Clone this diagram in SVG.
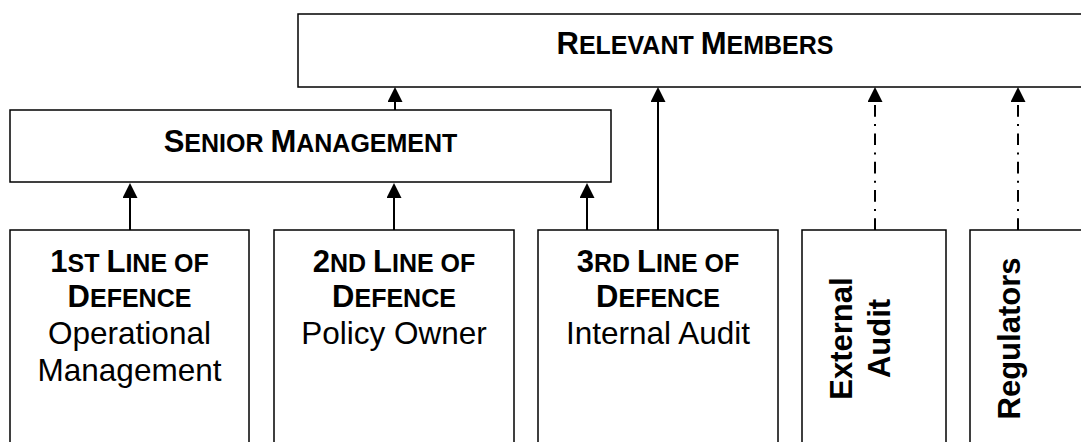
<svg xmlns="http://www.w3.org/2000/svg" width="1081" height="442" viewBox="0 0 1081 442">
<style>
.box{fill:#fff;stroke:#000;stroke-width:1.5}
.t{font-family:"Liberation Sans",Arial,sans-serif;fill:#000;text-anchor:middle}
.b{font-weight:bold}
.L{font-size:31px}
.s{font-size:25px}
.r{font-size:31.5px}
.v{font-size:31px;font-weight:bold}
.c{fill:none;stroke:#000;stroke-width:2}
.d{stroke-dasharray:11.7 7.3 2 7.3}
</style>
<defs>
<marker id="ah" markerUnits="userSpaceOnUse" markerWidth="15" markerHeight="15" refX="0" refY="7.5" orient="auto" viewBox="0 0 15 15">
<path d="M0,0 L15,7.5 L0,15 z" fill="#000"/>
</marker>
</defs>
<rect width="1081" height="442" fill="#fff"/>
<g id="relevant-members">
<rect class="box" x="298" y="14" width="800" height="73"/>
<text class="t b" x="695" y="54"><tspan class="L">R</tspan><tspan class="s">ELEVANT </tspan><tspan class="L">M</tspan><tspan class="s">EMBERS</tspan></text>
</g>
<g id="senior-management">
<rect class="box" x="10" y="110" width="601" height="72"/>
<text class="t b" x="310.5" y="152"><tspan class="L">S</tspan><tspan class="s">ENIOR </tspan><tspan class="L">M</tspan><tspan class="s">ANAGEMENT</tspan></text>
</g>
<g id="first-line">
<rect class="box" x="10" y="230" width="239" height="240"/>
<text class="t b" x="129.5" y="271.5"><tspan class="L">1</tspan><tspan class="s">ST </tspan><tspan class="L">L</tspan><tspan class="s">INE OF</tspan></text>
<text class="t b" x="129.5" y="307"><tspan class="L">D</tspan><tspan class="s">EFENCE</tspan></text>
<text class="t r" x="129.5" y="344">Operational</text>
<text class="t r" x="129.5" y="381">Management</text>
</g>
<g id="second-line">
<rect class="box" x="274" y="230" width="240" height="240"/>
<text class="t b" x="394" y="271.5"><tspan class="L">2</tspan><tspan class="s">ND </tspan><tspan class="L">L</tspan><tspan class="s">INE OF</tspan></text>
<text class="t b" x="394" y="307"><tspan class="L">D</tspan><tspan class="s">EFENCE</tspan></text>
<text class="t r" x="394" y="344">Policy Owner</text>
</g>
<g id="third-line">
<rect class="box" x="538" y="230" width="240" height="240"/>
<text class="t b" x="658" y="271.5"><tspan class="L">3</tspan><tspan class="s">RD </tspan><tspan class="L">L</tspan><tspan class="s">INE OF</tspan></text>
<text class="t b" x="658" y="307"><tspan class="L">D</tspan><tspan class="s">EFENCE</tspan></text>
<text class="t r" x="658" y="344">Internal Audit</text>
</g>
<g id="external-audit">
<rect class="box" x="802" y="230" width="144" height="240"/>
<text class="t v" transform="translate(851.5,338.5) rotate(-90)" x="0" y="0">External</text>
<text class="t v" transform="translate(889.5,338.5) rotate(-90)" x="0" y="0">Audit</text>
</g>
<g id="regulators">
<rect class="box" x="970" y="230" width="144" height="240"/>
<text class="t v" transform="translate(1020,338.5) rotate(-90)" x="0" y="0">Regulators</text>
</g>
<g id="connectors">
<path class="c" d="M130,230 V198" marker-end="url(#ah)"/>
<path class="c" d="M394,230 V198" marker-end="url(#ah)"/>
<path class="c" d="M587,230 V198" marker-end="url(#ah)"/>
<path class="c" d="M658,230 V102" marker-end="url(#ah)"/>
<path class="c" d="M395,110 V102" marker-end="url(#ah)"/>
<path class="c d" d="M875,230 V102" marker-end="url(#ah)"/>
<path class="c d" d="M1018,230 V102" marker-end="url(#ah)"/>
</g>
</svg>
